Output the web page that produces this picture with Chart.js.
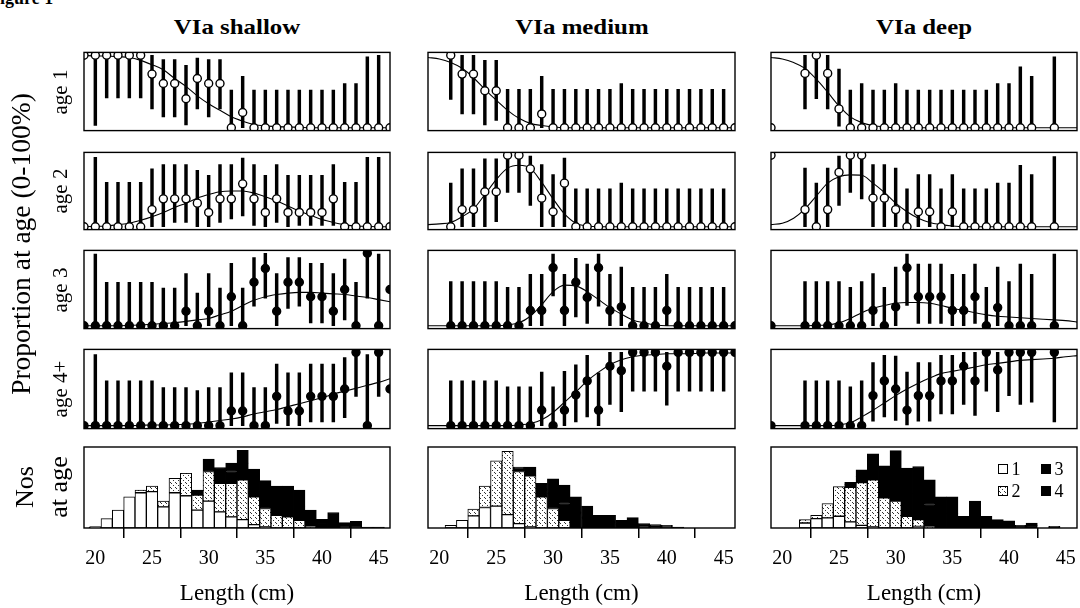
<!DOCTYPE html>
<html><head><meta charset="utf-8">
<script src="https://cdn.jsdelivr.net/npm/chart.js@4.4.1/dist/chart.umd.min.js"></script>
<style>
html,body{margin:0;padding:0;background:#fff;}
#root{position:relative;width:1080px;height:608px;overflow:hidden;background:#fff;font-family:"Liberation Serif","Times New Roman",serif;color:#000;}
.t{position:absolute;white-space:nowrap;line-height:1;}
</style></head><body><div id="root"></div>
<script>
const n = null;
const lengths = [19,20,21,22,23,24,25,26,27,28,29,30,31,32,33,34,35,36,37,38,39,40,41,42,43,44,45,46];
const xTicks = [20,25,30,35,40,45];
const columnTitles = ["VIa shallow","VIa medium","VIa deep"];
const rowLabels = ["age 1","age 2","age 3","age 4+"];
const legendLabels = ["1","2","3","4"];

// ---- VIa shallow ----
const S1p  = [1,1,1,1,1,1,0.74,0.61,0.61,0.40,0.68,0.61,0.61,0,0.21,0,0,0,0,0,0,0,0,0,0,0,0,0];
const S1lo = [n,0.03,0.41,0.41,0.41,0.41,0.26,0.15,0.15,0.04,0.26,0.15,0.26,0,0,0,0,0,0,0,0,0,0,0,0,0,0,n];
const S1hi = [n,1,1,1,1,1,1,0.94,0.94,0.86,0.96,0.94,0.94,0.52,0.71,0.52,0.52,0.52,0.52,0.52,0.52,0.52,0.52,0.61,0.61,0.98,1.0,n];
const S1fit= [1.0,0.99,0.99,0.98,0.97,0.93,0.87,0.80,0.68,0.57,0.44,0.33,0.24,0.15,0.09,0.045,0.025,0.015,0.01,0.005,0,0,0,0,0,0,0,0];

const S2p  = [0,0,0,0,0,0,0.24,0.39,0.39,0.39,0.33,0.20,0.39,0.39,0.60,0.39,0.20,0.39,0.20,0.20,0.20,0.20,0.39,0,0,0,0,0];
const S2lo = [n,0,0,0,0,0,0,0,0.06,0.06,0,0,0.06,0.11,0.15,0.02,0,0.06,0,0.02,0.02,0.02,0.02,0,0,0,0,n];
const S2hi = [n,0.97,0.62,0.62,0.62,0.62,0.81,0.87,0.87,0.87,0.79,0.72,0.87,0.87,0.96,0.87,0.72,0.87,0.72,0.72,0.72,0.72,0.87,0.62,0.62,0.97,0.97,n];
const S2fit= [0,0.005,0.01,0.03,0.05,0.09,0.14,0.20,0.27,0.33,0.40,0.45,0.49,0.50,0.50,0.47,0.42,0.36,0.29,0.22,0.16,0.10,0.06,0.03,0.01,0.005,0,0];

const S3p  = [0,0,0,0,0,0,0,0,0,0.20,0,0.20,0,0.40,0,0.60,0.79,0.20,0.60,0.60,0.40,0.40,0.20,0.50,0,1.0,0,0.5];
const S3lo = [n,0,0,0,0,0,0,0,0,0,0,0,0,0,0,0.27,0.38,0,0.24,0.27,0.04,0.04,0,0.08,0,0.38,0,n];
const S3hi = [n,0.99,0.60,0.60,0.60,0.60,0.60,0.52,0.52,0.72,0.45,0.72,0.52,0.86,0.52,0.94,1.0,0.72,0.94,0.94,0.86,0.86,0.72,0.92,0.60,1.0,0.99,n];
const S3fit= [0,0,0,0,0.005,0.01,0.02,0.03,0.04,0.06,0.08,0.10,0.15,0.20,0.28,0.35,0.40,0.43,0.45,0.46,0.46,0.45,0.44,0.43,0.41,0.39,0.36,0.33];

const S4p  = [0,0,0,0,0,0,0,0,0,0,0,0,0,0.20,0.20,0,0,0.40,0.20,0.20,0.40,0.40,0.40,0.50,1.0,0,1.0,0.5];
const S4lo = [n,0,0,0,0,0,0,0,0,0,0,0,0,0,0,0,0,0.03,0,0,0.05,0.05,0.05,0.11,0.40,0,0.40,n];
const S4hi = [n,0.97,0.61,0.61,0.61,0.61,0.61,0.52,0.52,0.52,0.48,0.52,0.52,0.72,0.72,0.52,0.52,0.84,0.72,0.72,0.84,0.84,0.84,0.93,1.0,0.97,1.0,n];
const S4fit= [0,0,0,0,0,0.005,0.01,0.01,0.015,0.02,0.03,0.05,0.07,0.09,0.12,0.16,0.19,0.22,0.26,0.30,0.34,0.38,0.43,0.47,0.51,0.55,0.59,0.64];

// ---- VIa medium ----
const M1p  = [n,n,1.0,0.74,0.74,0.51,0.51,0,0,0,0.19,0,0,0,0,0,0,0,0,0,0,0,0,0,0,0,0,0];
const M1lo = [n,n,0.39,0.19,0.19,0.04,0.10,0,0,0,0,0,0,0,0,0,0,0,0,0,0,0,0,0,0,0,0,n];
const M1hi = [n,n,1,1,1,0.93,0.93,0.53,0.53,0.53,0.71,0.53,0.53,0.53,0.53,0.53,0.53,0.61,0.53,0.53,0.53,0.53,0.53,0.53,0.53,0.53,0.53,n];
const M1fit= [0.97,0.95,0.90,0.82,0.69,0.53,0.38,0.24,0.13,0.06,0.03,0.01,0,0,0,0,0,0,0,0,0,0,0,0,0,0,0,0];

const M2p  = [n,n,0,0.24,0.24,0.49,0.49,1.0,1.0,0.81,0.40,0.21,0.61,0,0,0,0,0,0,0,0,0,0,0,0,0,0,0];
const M2lo = [n,n,0,0,0,0,0.07,0.48,0.48,0.30,0,0,0,0,0,0,0,0,0,0,0,0,0,0,0,0,0,n];
const M2hi = [n,n,0.61,0.81,0.81,0.95,0.95,1,1,0.99,0.87,0.73,0.96,0.53,0.53,0.53,0.53,0.61,0.53,0.53,0.53,0.53,0.53,0.53,0.53,0.53,0.53,n];
const M2fit= [0.03,0.04,0.06,0.14,0.25,0.45,0.66,0.82,0.86,0.82,0.62,0.39,0.18,0.05,0.01,0,0,0,0,0,0,0,0,0,0,0,0,0];

const M3p  = [n,n,0,0,0,0,0,0,0,0.21,0.21,0.80,0.21,0.60,0.39,0.80,0.21,0.26,0,0,0,0.21,0,0,0,0,0,0];
const M3lo = [n,n,0,0,0,0,0,0,0,0,0,0.41,0,0.12,0.03,0.27,0,0,0,0,0,0,0,0,0,0,0,n];
const M3hi = [n,n,0.61,0.61,0.61,0.61,0.61,0.53,0.53,0.71,0.71,0.99,0.71,0.93,0.85,0.99,0.71,0.81,0.53,0.53,0.53,0.71,0.53,0.53,0.53,0.53,0.53,n];
const M3fit= [0,0,0,0,0,0,0,0.01,0.04,0.13,0.29,0.47,0.56,0.55,0.47,0.36,0.25,0.16,0.08,0.04,0.01,0,0,0,0,0,0,0];

const M4p  = [n,n,0,0,0,0,0,0,0,0,0.21,0,0.21,0.42,0.61,0.21,0.81,0.75,1,1,1,0.81,1,1,1,1,1,1];
const M4lo = [n,n,0,0,0,0,0,0,0,0,0,0,0,0.05,0.12,0,0.29,0.19,0.47,0.47,0.47,0.28,0.47,0.47,0.47,0.47,0.47,n];
const M4hi = [n,n,0.61,0.61,0.61,0.61,0.61,0.53,0.53,0.53,0.73,0.53,0.74,0.83,0.96,0.72,1,1,1,1,1,1,1,1,1,1,1,n];
const M4fit= [0,0,0,0,0,0,0,0,0.01,0.03,0.08,0.18,0.32,0.46,0.61,0.73,0.83,0.90,0.94,0.96,0.97,0.98,0.98,0.98,0.99,0.99,0.99,0.99];

// ---- VIa deep ----
const D1p  = [0,n,n,0.75,1.0,0.75,0.26,0,0,0,0,0,0,0,0,0,0,0,0,0,0,0,0,0,n,0,n,n];
const D1lo = [n,n,n,0.26,0.40,0.26,0.02,0,0,0,0,0,0,0,0,0,0,0,0,0,0,0,0,0,n,0,n,n];
const D1hi = [n,n,n,1,1,1,0.81,0.52,0.61,0.52,0.52,0.61,0.52,0.52,0.52,0.52,0.52,0.52,0.52,0.52,0.61,0.61,0.84,0.71,n,0.98,n,n];
const D1fit= [0.97,0.95,0.90,0.82,0.67,0.49,0.30,0.15,0.07,0.03,0.01,0,0,0,0,0,0,0,0,0,0,0,0,0,0,0,0,0];

const D2p  = [1.0,n,n,0.24,0,0.24,0.76,1.0,1.0,0.40,0.40,0.24,0,0.21,0.21,0,0.21,0,0,0,0,0,0,0,n,0,n,n];
const D2lo = [n,n,n,0,0,0,0.30,0.48,0.39,0,0,0,0,0,0,0,0,0,0,0,0,0,0,0,n,0,n,n];
const D2hi = [n,n,n,0.82,0.61,0.82,0.99,1,1,0.87,0.87,0.82,0.53,0.73,0.73,0.53,0.73,0.53,0.53,0.53,0.61,0.61,0.86,0.73,n,0.98,n,n];
const D2fit= [0.03,0.05,0.12,0.25,0.43,0.61,0.70,0.725,0.72,0.61,0.48,0.33,0.21,0.12,0.06,0.03,0.01,0,0,0,0,0,0,0,0,0,0,0];

const D3p  = [0,n,n,0,0,0,0,0,0,0.21,0,0.26,0.80,0.40,0.40,0.40,0.21,0.21,0.40,0,0.25,0,0,0,n,0,n,n];
const D3lo = [n,n,n,0,0,0,0,0,0,0,0,0,0.28,0.03,0.03,0.03,0,0,0.03,0,0,0,0,0,n,0,n,n];
const D3hi = [n,n,n,0.61,0.61,0.61,0.61,0.53,0.61,0.72,0.53,0.81,0.99,0.85,0.85,0.85,0.71,0.71,0.85,0.53,0.81,0.61,0.85,0.71,n,0.99,n,n];
const D3fit= [0,0,0,0,0.005,0.01,0.04,0.10,0.18,0.24,0.28,0.31,0.32,0.32,0.31,0.28,0.24,0.21,0.18,0.15,0.13,0.12,0.11,0.10,0.09,0.08,0.07,0.05];

const D4p  = [0,n,n,0,0,0,0,0,0,0.41,0.61,0.50,0.21,0.41,0.41,0.61,0.61,0.81,0.61,1,0.76,1,1,1,n,1,n,n];
const D4lo = [n,n,n,0,0,0,0,0,0,0.06,0.12,0.07,0.01,0.06,0.06,0.16,0.16,0.29,0.14,0.47,0.19,0.41,0.29,0.32,n,0.05,n,n];
const D4hi = [n,n,n,0.61,0.61,0.61,0.61,0.53,0.61,0.86,0.96,0.95,0.73,0.86,0.86,0.96,0.96,1,1,1,1,1,1,1,n,1,n,n];
const D4fit= [0,0,0,0,0,0,0.01,0.04,0.12,0.21,0.31,0.41,0.50,0.58,0.65,0.71,0.74,0.77,0.80,0.83,0.85,0.87,0.89,0.90,0.91,0.92,0.94,0.955];

// ---- numbers at age (histograms) ----
const SH1 = [2,4,28,53,93,105,108,63,105,96,53,80,48,33,25,10,3,0,0,0,0,0,0,0,0,0,0,0];
const SH2 = [0,0,0,0,0,8,17,17,43,67,45,88,85,100,118,83,55,38,33,23,6,0,0,0,0,0,0,0];
const SH3 = [0,0,0,0,0,0,0,0,0,0,15,37,30,35,50,45,45,45,45,40,20,10,15,5,5,1,1,0];
const SH4 = [0,0,0,0,0,0,0,0,0,0,0,0,17,25,38,37,38,42,47,50,27,16,31,11,15,2,2,0];

const MH1 = [0,0,8,23,36,61,65,40,13,3,0,0,0,0,0,0,0,0,0,0,0,0,0,0,0,0,0,0];
const MH2 = [0,0,0,0,20,64,135,188,155,152,93,58,23,0,0,0,0,0,0,0,0,0,0,0,0,0,0,0];
const MH3 = [0,0,0,0,0,0,0,0,8,15,22,45,50,45,30,18,17,10,13,6,4,3,1,0,0,0,0,0];
const MH4 = [0,0,0,0,0,0,0,0,5,11,18,43,55,48,35,20,21,13,18,7,6,5,2,0,0,0,0,0];

const DH1 = [0,0,0,15,28,30,35,18,8,3,0,0,0,5,0,0,0,0,0,0,0,0,0,0,0,0,0,0];
const DH2 = [0,0,0,10,10,43,88,103,127,140,90,80,35,20,5,0,0,0,0,0,0,0,0,0,0,0,0,0];
const DH3 = [0,0,0,0,0,0,0,8,18,38,45,70,68,75,65,43,43,15,38,15,10,10,4,7,0,2,0,0];
const DH4 = [0,0,0,0,0,0,0,7,20,40,50,80,75,83,73,50,50,20,42,20,15,11,4,8,0,3,0,0];

// ---------- layout ----------
const FONT = "'Liberation Serif','Times New Roman',serif";
const root = document.getElementById('root');
const cols = [{l:84,r:390},{l:428,r:735},{l:771,r:1077}];
const rows = [{t:51,b:132},{t:151,b:231},{t:249,b:330},{t:348,b:430}];
const hist = {t:447,b:528};
const PX = 14, PY = 4;

function txt(s, x, y, size, o = {}) {
  const d = document.createElement('div');
  d.className = 't';
  d.textContent = s;
  d.style.left = x + 'px'; d.style.top = y + 'px';
  d.style.fontSize = size + 'px';
  d.style.fontWeight = o.bold ? 'bold' : 'normal';
  d.style.transform = 'translate(-50%,-50%)' + (o.rot ? ' rotate(-90deg)' : '') + (o.sx ? ' scaleX(' + o.sx + ')' : '');
  root.appendChild(d);
  return d;
}
function addCanvas(left, top, w, h) {
  const c = document.createElement('canvas');
  c.width = w; c.height = h;
  c.style.cssText = `position:absolute;left:${left}px;top:${top}px;width:${w}px;height:${h}px`;
  root.appendChild(c);
  return c;
}
const boxPlugin = { id: 'box', afterDatasetsDraw(chart) {
  const {ctx, chartArea: a} = chart;
  ctx.save(); ctx.strokeStyle = '#000'; ctx.lineWidth = 1.4;
  ctx.strokeRect(a.left, a.top, a.right - a.left, a.bottom - a.top);
  ctx.restore();
}};
const pts = arr => lengths.map((x, i) => arr[i] == null ? null : {x, y: arr[i]}).filter(Boolean);
const bars = (lo, hi) => lengths.map((x, i) => (lo[i] == null || hi[i] == null) ? null : {x, y: [lo[i], hi[i]]}).filter(Boolean);

function stippleCanvas() {
  const c = document.createElement('canvas'); c.width = 5; c.height = 5;
  const g = c.getContext('2d');
  g.fillStyle = '#fff'; g.fillRect(0, 0, 5, 5);
  g.fillStyle = '#333';
  g.fillRect(1, 0, 1, 1); g.fillRect(3, 2, 1, 1); g.fillRect(0, 4, 1, 1);
  return c;
}
const stip = stippleCanvas();
const stipPattern = stip.getContext('2d').createPattern(stip, 'repeat');

const baseOpts = (padBottom) => ({
  responsive: false, animation: false, devicePixelRatio: 1, events: [],
  layout: {padding: {left: PX, right: PX, top: PY, bottom: padBottom}},
  plugins: {legend: {display: false}, tooltip: {enabled: false}}
});

function panel(col, row, p, lo, hi, fit, filled) {
  const c = cols[col], r = rows[row];
  const cv = addCanvas(c.l - PX, r.t - PY, c.r - c.l + 2 * PX, r.b - r.t + 2 * PY);
  const opts = baseOpts(PY);
  opts.scales = {
    x: {type: 'linear', min: 19, max: 46, offset: false, display: false},
    y: {type: 'linear', min: -0.04, max: 1.04, display: false}
  };
  new Chart(cv, {
    type: 'scatter',
    data: {datasets: [
      {type: 'scatter', data: pts(p), showLine: false, pointRadius: 4,
       pointBackgroundColor: filled ? '#000' : '#fff', pointBorderColor: '#000', pointBorderWidth: 1.4, order: 0},
      {type: 'line', data: pts(fit), borderColor: '#000', borderWidth: 1.1, pointRadius: 0,
       cubicInterpolationMode: 'monotone', fill: false, order: 1},
      {type: 'bar', data: bars(lo, hi), backgroundColor: '#000', borderWidth: 0, barThickness: 2.8, order: 2}
    ]},
    options: opts,
    plugins: [boxPlugin]
  });
}

function histPanel(col, a1, a2, a3, a4) {
  const c = cols[col];
  const top = hist.t - PY;
  const cv = addCanvas(c.l - PX, top, c.r - c.l + 2 * PX, 608 - top);
  const mk = (arr, bg) => ({
    data: lengths.map((x, i) => arr[i] > 0 ? {x, y: arr[i]} : null).filter(Boolean),
    backgroundColor: bg, borderColor: '#000', borderWidth: 1, borderSkipped: false,
    categoryPercentage: 1, barPercentage: 1
  });
  const opts = baseOpts(0);
  opts.scales = {
    x: {type: 'linear', min: 19, max: 46, offset: false, stacked: true,
        afterBuildTicks: s => { s.ticks = xTicks.map(v => ({value: v})); },
        afterFit: s => { s.height = 608 - hist.b; },
        grid: {drawOnChartArea: false, drawTicks: true, tickLength: 10, color: '#000', lineWidth: 1.5},
        border: {display: false},
        ticks: {color: '#000', font: {family: FONT, size: 20}, padding: 9, maxRotation: 0, autoSkip: false}},
    y: {type: 'linear', stacked: true, min: 0, max: 241, display: false}
  };
  new Chart(cv, {
    type: 'bar',
    data: {datasets: [mk(a1, '#fff'), mk(a2, stipPattern), mk(a3, '#000'), mk(a4, '#000')]},
    options: opts,
    plugins: [boxPlugin]
  });
}

// panels
panel(0,0,S1p,S1lo,S1hi,S1fit,false);
panel(0,1,S2p,S2lo,S2hi,S2fit,false);
panel(0,2,S3p,S3lo,S3hi,S3fit,true);
panel(0,3,S4p,S4lo,S4hi,S4fit,true);
panel(1,0,M1p,M1lo,M1hi,M1fit,false);
panel(1,1,M2p,M2lo,M2hi,M2fit,false);
panel(1,2,M3p,M3lo,M3hi,M3fit,true);
panel(1,3,M4p,M4lo,M4hi,M4fit,true);
panel(2,0,D1p,D1lo,D1hi,D1fit,false);
panel(2,1,D2p,D2lo,D2hi,D2fit,false);
panel(2,2,D3p,D3lo,D3hi,D3fit,true);
panel(2,3,D4p,D4lo,D4hi,D4fit,true);
histPanel(0,SH1,SH2,SH3,SH4);
histPanel(1,MH1,MH2,MH3,MH4);
histPanel(2,DH1,DH2,DH3,DH4);

// text
const fig = document.createElement('div');
fig.className = 't'; fig.textContent = 'Figure 1';
fig.style.cssText = 'left:-11px;top:-11px;font-size:18px;font-weight:bold;';
root.appendChild(fig);
columnTitles.forEach((s, i) => txt(s, (cols[i].l + cols[i].r) / 2, 27, 22, {bold: true, sx: 1.13}));
rowLabels.forEach((s, i) => txt(s, 60, (rows[i].t + rows[i].b) / 2, 21, {rot: true}));
txt('Proportion at age (0-100%)', 21, 244, 27.5, {rot: true});
txt('Nos', 25, 487, 26, {rot: true});
txt('at age', 59, 487, 26, {rot: true});
cols.forEach(c => txt('Length (cm)', (c.l + c.r) / 2, 592, 23));

// legend (inside the deep histogram)
const legendPos = [[998,464],[998,486],[1041,464],[1041,486]];
legendLabels.forEach((s, i) => {
  const [x, y] = legendPos[i];
  const sq = document.createElement('div');
  let bg = i === 0 ? 'background:#fff;' : (i === 1 ? `background:#fff url(${stip.toDataURL()}) repeat;` : 'background:#000;');
  sq.style.cssText = `position:absolute;left:${x}px;top:${y}px;width:8px;height:8px;border:1px solid #000;` + bg;
  root.appendChild(sq);
  txt(s, x + 18, y + 5, 18);
});
</script></body></html>
